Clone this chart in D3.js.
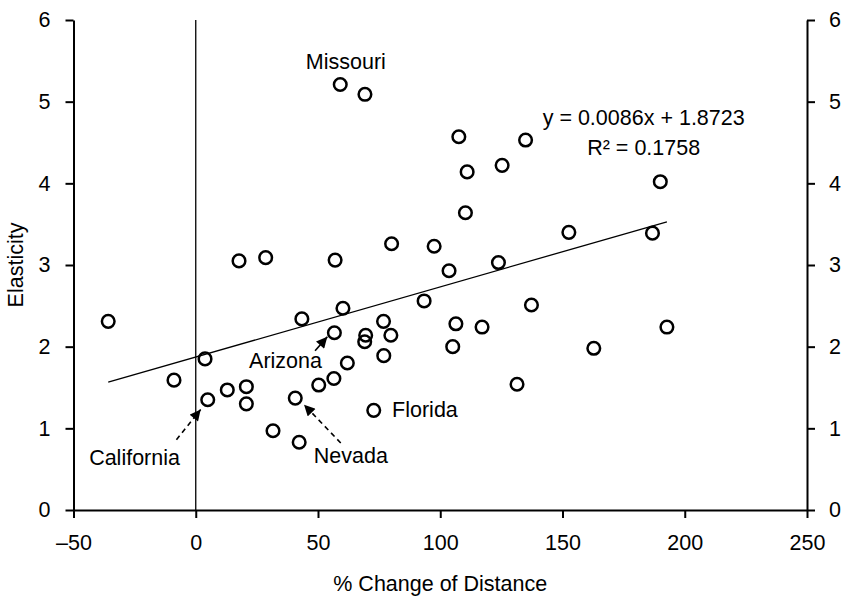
<!DOCTYPE html>
<html>
<head>
<meta charset="utf-8">
<script src="https://cdn.jsdelivr.net/npm/d3@7/dist/d3.min.js"></script>
<style>
  html, body { margin: 0; padding: 0; background: #fff; }
  svg { display: block; font-family: "Liberation Sans", Arial, sans-serif; }
</style>
</head>
<body>
<div id="chart"></div>
<script>
// % change of distance (x) vs elasticity (y), one entry per state
const distChange = [
    -35.8, -8.9, 3.8, 4.9, 12.9, 20.7, 20.7, 17.7, 28.6, 31.6,
    40.7, 42.3, 43.4, 57.0, 56.7, 60.2, 59.1, 69.2, 50.3, 56.5,
    62.0, 69.5, 69.1, 76.8, 79.8, 76.9, 72.8, 80.1, 97.5, 103.6,
    93.4, 106.4, 117.1, 105.1, 123.8, 107.6, 134.9, 111.0, 125.3, 110.3,
    190.0, 152.6, 186.8, 137.3, 192.7, 162.8, 131.4
];
const elasticity = [
    2.31, 1.59, 1.85, 1.35, 1.47, 1.51, 1.30, 3.05, 3.09, 0.97,
    1.37, 0.83, 2.34, 3.06, 2.17, 2.47, 5.21, 5.09, 1.53, 1.61,
    1.80, 2.14, 2.06, 2.31, 2.14, 1.89, 1.22, 3.26, 3.23, 2.93,
    2.56, 2.28, 2.24, 2.00, 3.03, 4.57, 4.53, 4.14, 4.22, 3.64,
    4.02, 3.40, 3.39, 2.51, 2.24, 1.98, 1.54
];

const xTicks = [-50, 0, 50, 100, 150, 200, 250];
const yTicks = [0, 1, 2, 3, 4, 5, 6];

// trend line (linear fit shown on the chart)
const slope = 0.0086;
const intercept = 1.8723;
const fitLabels = ['y = 0.0086x + 1.8723', 'R\u00b2 = 0.1758'];

// state labels, in data units
const labelNames = ['Missouri', 'Arizona', 'Florida', 'California', 'Nevada'];
const labelX = [61.4, 21.8, 80.3, -43.6, 48.3];
const labelY = [5.40, 1.74, 1.135, 0.55, 0.58];
const labelAnchor = ['middle', 'start', 'start', 'start', 'start'];

// arrows: tail -> tip, in data units
const arrowFrom = [[48.8, 1.95], [-7.9, 0.86], [59.3, 0.82]];
const arrowTo = [[53.8, 2.12], [2.0, 1.23], [44.3, 1.29]];
const arrowDashed = [false, true, true];

const width = 844, height = 602;
const margin = { top: 20, right: 37, bottom: 92, left: 73.5 };
const innerW = width - margin.left - margin.right;
const innerH = height - margin.top - margin.bottom;
const FONT = '21.5px';

const svg = d3.select('#chart')
    .append('svg')
    .attr('width', width)
    .attr('height', height);

const defs = svg.append('defs');
defs.append('marker')
    .attr('id', 'head')
    .attr('viewBox', '0 0 10 10')
    .attr('refX', 10)
    .attr('refY', 5)
    .attr('markerWidth', 12)
    .attr('markerHeight', 11)
    .attr('markerUnits', 'userSpaceOnUse')
    .attr('orient', 'auto')
    .append('path')
    .attr('d', 'M0,0 L10,5 L0,10 z')
    .attr('fill', '#000');

const g = svg.append('g').attr('transform', `translate(${margin.left},${margin.top})`);

const xScale = d3.scaleLinear().domain([-50, 250]).range([0, innerW]);
const yScale = d3.scaleLinear().domain([0, 6]).range([innerH, 0]);

// Eksenler
function styleAxis(sel) {
    sel.select('.domain').attr('stroke', '#000').attr('stroke-width', 2);
    sel.selectAll('.tick line').attr('stroke', '#000').attr('stroke-width', 2);
    sel.selectAll('.tick text').attr('fill', '#000').style('font-size', FONT);
    sel.attr('font-family', null);
}

g.append('g')
    .call(d3.axisLeft(yScale).tickValues(yTicks).tickFormat(d3.format('d'))
        .tickSize(8).tickSizeOuter(0).tickPadding(15))
    .call(styleAxis);

g.append('g')
    .attr('transform', `translate(${innerW},0)`)
    .call(d3.axisRight(yScale).tickValues(yTicks).tickFormat(d3.format('d'))
        .tickSize(8).tickSizeOuter(0).tickPadding(14))
    .call(styleAxis);

g.append('g')
    .attr('transform', `translate(0,${innerH})`)
    .call(d3.axisBottom(xScale).tickValues(xTicks).tickSize(8).tickSizeOuter(0).tickPadding(17)
        .tickFormat(d => d < 0 ? '\u2013' + Math.abs(d) : d))
    .call(styleAxis);

// x = 0 line
g.append('line')
    .attr('x1', xScale(0)).attr('x2', xScale(0))
    .attr('y1', yScale(0)).attr('y2', yScale(6))
    .attr('stroke', '#000')
    .attr('stroke-width', 1.3);

// trend line across the data range
const xExt = d3.extent(distChange);
g.append('line')
    .attr('x1', xScale(xExt[0])).attr('y1', yScale(slope * xExt[0] + intercept))
    .attr('x2', xScale(xExt[1])).attr('y2', yScale(slope * xExt[1] + intercept))
    .attr('stroke', '#000')
    .attr('stroke-width', 1.3);

// points
const points = distChange.map((x, i) => ({ x, y: elasticity[i] }));
g.selectAll('.pt')
    .data(points)
    .enter()
    .append('circle')
    .attr('class', 'pt')
    .attr('cx', d => xScale(d.x))
    .attr('cy', d => yScale(d.y))
    .attr('r', 6.3)
    .attr('fill', 'none')
    .attr('stroke', '#000')
    .attr('stroke-width', 2.5);

// fit equation
g.append('g')
    .selectAll('text')
    .data(fitLabels)
    .enter()
    .append('text')
    .attr('x', xScale(183.2))
    .attr('y', (d, i) => yScale(4.71) + i * 30)
    .attr('text-anchor', 'middle')
    .style('font-size', FONT)
    .text(d => d);

// state labels
g.selectAll('.state')
    .data(labelNames)
    .enter()
    .append('text')
    .attr('class', 'state')
    .attr('x', (d, i) => xScale(labelX[i]))
    .attr('y', (d, i) => yScale(labelY[i]))
    .attr('text-anchor', (d, i) => labelAnchor[i])
    .style('font-size', FONT)
    .text(d => d);

// arrows
g.selectAll('.arrow')
    .data(arrowFrom)
    .enter()
    .append('line')
    .attr('class', 'arrow')
    .attr('x1', d => xScale(d[0]))
    .attr('y1', d => yScale(d[1]))
    .attr('x2', (d, i) => xScale(arrowTo[i][0]))
    .attr('y2', (d, i) => yScale(arrowTo[i][1]))
    .attr('stroke', '#000')
    .attr('stroke-width', 1.6)
    .attr('stroke-dasharray', (d, i) => arrowDashed[i] ? '5,4' : null)
    .attr('marker-end', 'url(#head)');

// axis titles
svg.append('text')
    .attr('x', margin.left + xScale(100))
    .attr('y', 591)
    .attr('text-anchor', 'middle')
    .style('font-size', FONT)
    .text('% Change of Distance');

svg.append('text')
    .attr('transform', `translate(23,${margin.top + yScale(3)}) rotate(-90)`)
    .attr('text-anchor', 'middle')
    .style('font-size', FONT)
    .text('Elasticity');
</script>
</body>
</html>
